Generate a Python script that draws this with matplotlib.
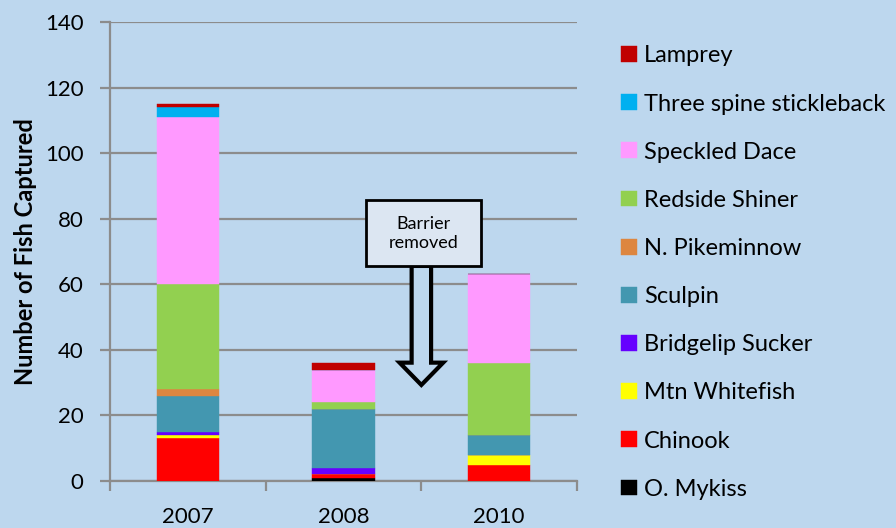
import numpy as np
import matplotlib
matplotlib.use("Agg")
import matplotlib.pyplot as plt
import matplotlib.patches as mpatches

plt.rcParams["font.family"] = ["Lato", "DejaVu Sans"]

# data (stack order: bottom -> top)
years = ["2007", "2008", "2010"]
species = ["O. Mykiss", "Chinook", "Mtn Whitefish", "Bridgelip Sucker",
           "Sculpin", "N. Pikeminnow", "Redside Shiner", "Speckled Dace",
           "Three spine stickleback", "Lamprey"]
o_mykiss = [0, 1, 0]
chinook = [13, 1, 5]
whitefish = [1, 0, 3]
bridgelip = [1, 2, 0]
sculpin = [11, 18, 6]
pikeminnow = [2, 0, 0]
redside = [32, 2, 22]
speckled = [51, 10, 27]
stickleback = [3, 0, 0]
lamprey = [1, 2, 0]

counts = [o_mykiss, chinook, whitefish, bridgelip, sculpin, pikeminnow,
          redside, speckled, stickleback, lamprey]
colors = ["#000000", "#FF0000", "#FFFF00", "#6600FF", "#4397B0",
          "#DD8640", "#92D050", "#FF99FF", "#00B0F0", "#C00000"]

bg = "#BDD7EE"
grid_c = "#8C8C8C"

fig = plt.figure(figsize=(8.96, 5.28), dpi=100, facecolor=bg)
ax = fig.add_axes([0.1228, 0.089, 0.5212, 0.8693])
ax.set_facecolor(bg)

x = np.arange(len(years))
bottom = np.zeros(len(years))
handles = []
for name, vals, c in zip(species, counts, colors):
    vals = np.array(vals, dtype=float)
    b = ax.bar(x, vals, width=0.4, bottom=bottom, color=c, label=name,
               edgecolor=c, linewidth=0.3, zorder=3)
    handles.append(b)
    bottom += vals

ax.set_xlim(-0.5, 2.5)
ax.set_ylim(0, 140)
ax.set_yticks(np.arange(0, 141, 20))
ax.yaxis.grid(True, color=grid_c, linewidth=1.6, zorder=0)
ax.set_axisbelow(True)

ax.set_xticks(x)
ax.set_xticklabels(years, fontsize=16)
ax.set_xticks([-0.5, 0.5, 1.5, 2.5], minor=True)
ax.tick_params(axis="x", which="major", length=0, pad=19)
ax.tick_params(axis="x", which="minor", length=7, width=1.6, color=grid_c)
ax.tick_params(axis="y", length=7, width=1.6, color=grid_c, pad=12,
               labelsize=16)

for s in ["top", "right"]:
    ax.spines[s].set_visible(False)
for s in ["left", "bottom"]:
    ax.spines[s].set_color(grid_c)
    ax.spines[s].set_linewidth(1.6)

ax.set_ylabel("Number of Fish Captured", fontsize=17, fontweight="bold",
              labelpad=6)

# barrier annotation
arrow = mpatches.FancyArrow(1.5, 65.6, 0, -36.3, width=0.125, head_width=0.28,
                            head_length=6.8, length_includes_head=True,
                            facecolor=bg, edgecolor="black", linewidth=3,
                            zorder=4)
ax.add_patch(arrow)
box = mpatches.Rectangle((1.145, 65.6), 0.735, 20.1, facecolor="#DCE6F2",
                         edgecolor="black", linewidth=2, zorder=5)
ax.add_patch(box)
ax.text(1.512, 75.6, "Barrier\nremoved", ha="center", va="center",
        fontsize=13, linespacing=1.25, zorder=6)

leg = fig.legend(handles[::-1], species[::-1], loc="upper left",
                 bbox_to_anchor=(0.683, 0.932), frameon=False, fontsize=17,
                 handlelength=0.65, handleheight=0.65, handletextpad=0.3,
                 labelspacing=1.15, borderaxespad=0)

fig.savefig("out.png", dpi=100, facecolor=bg)
